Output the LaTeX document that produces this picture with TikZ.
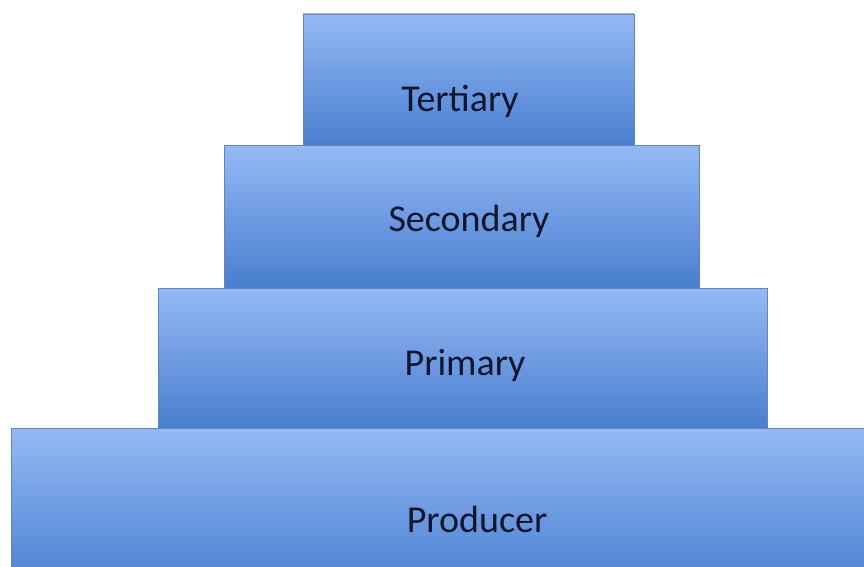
\documentclass[tikz,border=0pt]{standalone}
\usepackage{fontspec}
\setmainfont{Carlito}
\usepackage{xcolor}
\usepackage{tikz}

\definecolor{tiertop}{RGB}{148,186,245}
\definecolor{tierbottom}{RGB}{72,126,207}
\definecolor{tierline}{RGB}{100,132,186}
\definecolor{tiertext}{RGB}{14,22,44}

\tikzset{
  tier/.style={draw=tierline, line width=0.8pt, top color=tiertop, bottom color=tierbottom},
  tierlabel/.style={text=tiertext, font=\fontsize{38}{42}\selectfont}
}

\begin{document}
\begin{tikzpicture}[x=1pt,y=-1pt]
        \useasboundingbox (0,0) rectangle (864,567);
        % Draw the tiers
        \draw[tier] (303,14) rectangle (634,146);
        \draw[tier] (224,145) rectangle (699,288);
        \draw[tier] (158,288) rectangle (767,429);
        \draw[tier] (11,428) rectangle (880,590);
        % Draw the labels
        \node[tierlabel] (tertiary) at (460,101) {Tertiary};
        \node[tierlabel] (secondary) at (469,221) {Secondary};
        \node[tierlabel] (primary) at (465,365) {Primary};
        \node[tierlabel] (producer) at (477,519) {Producer};
\end{tikzpicture}
\end{document}
